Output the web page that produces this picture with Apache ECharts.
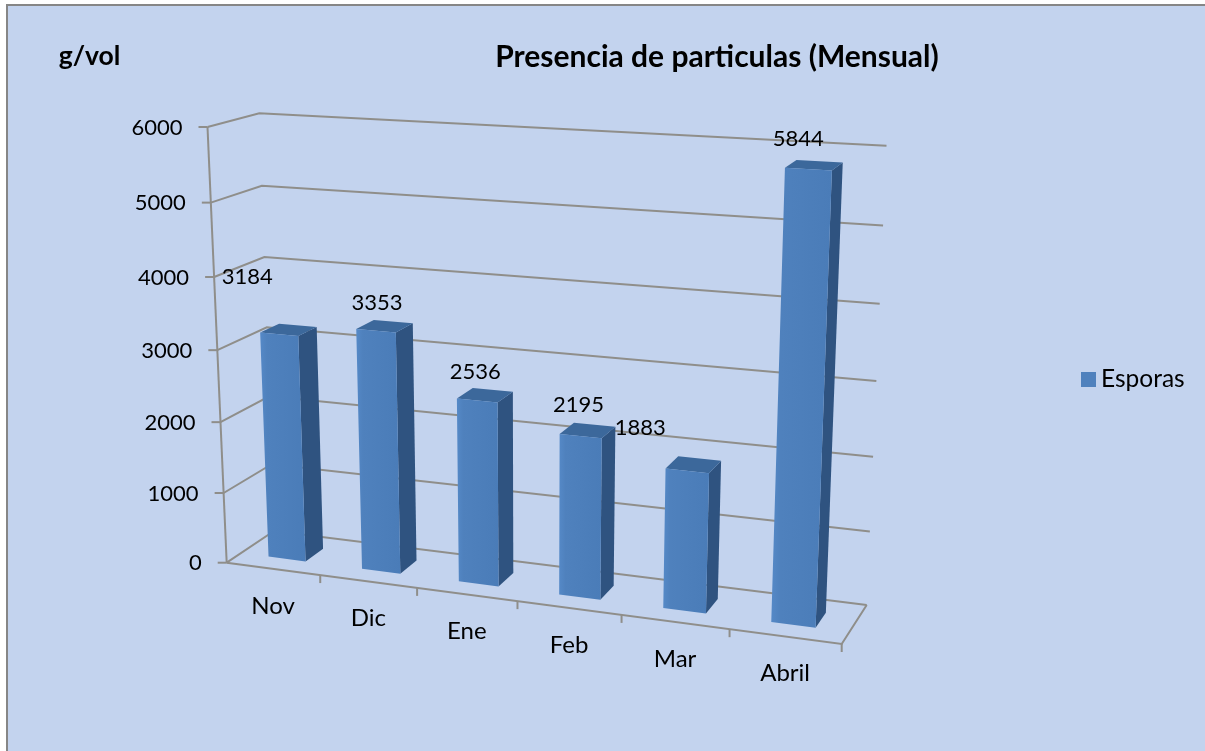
<!DOCTYPE html>
<html>
<head>
<meta charset="utf-8">
<style>html,body{margin:0;padding:0;background:#fff}#c{width:1205px;height:751px}</style>
<script src="https://cdn.jsdelivr.net/npm/echarts@6/dist/echarts.min.js"></script>
</head>
<body>
<div id="c"></div>
<script>
const categories = ['Nov', 'Dic', 'Ene', 'Feb', 'Mar', 'Abril'];
const esporas = [3184, 3353, 2536, 2195, 1883, 5844];
const valueTicks = [0, 1000, 2000, 3000, 4000, 5000, 6000];
const labelOffsets = [[-32, -57], [1, -28], [-2, -29], [-2, -31], [-47, -43], [-10, -30]];

// 3D box: 8 projected corners (front/back, left/right, bottom/top)
const FLB = [226.7, 562.7], FRB = [841.7, 644], BLB = [274, 531], BRB = [866.7, 605];
const FLT = [207.5, 127], FRT = [860, 166], BLT = [259.3, 113.3], BRT = [886.5, 145.7];
const FONT = 'Lato, Carlito, "Open Sans", sans-serif';
const GRID = '#8f8e8a';

function lerp(a, b, f) { return [a[0] + (b[0] - a[0]) * f, a[1] + (b[1] - a[1]) * f]; }
function project(u, t, v) {
  const uu = u / (1 + 0.115 * (1 - u));
  const tt = t / (1 + 0.05 * (1 - t));
  const f = lerp(lerp(FLB, FRB, uu), lerp(FLT, FRT, uu), tt);
  const b = lerp(lerp(BLB, BRB, uu), lerp(BLT, BRT, uu), tt);
  return lerp(f, b, v);
}
// fractions of the hidden grid, read through the library's scales
function yFrac(api, value) {
  const y0 = api.coord([0, 0])[1], y1 = api.coord([0, 6000])[1];
  return (y0 - api.coord([0, value])[1]) / (y0 - y1);
}
function line(points, w) {
  return { type: 'polyline', shape: { points }, style: { stroke: GRID, lineWidth: w || 2, fill: null } };
}
function txt(text, x, y, align, size) {
  return { type: 'text', style: { text, x, y, align: align || 'center', verticalAlign: 'middle', font: (size || 22) + 'px ' + FONT, fill: '#000' } };
}

function renderWall(params, api) {
  const value = api.value(1), t = yFrac(api, value);
  const a = project(0, t, 0), b = project(0, t, 1), c = project(1, t, 1);
  const children = [line([a, b, c]), line([[a[0] - 9, a[1]], a]), txt(String(value), a[0] - 25, a[1] + 0.5, 'right')];
  if (value === 0) {
    children.push(line([project(0, 0, 0), project(0, 1, 0)]));
    children.push(line([project(0, 0, 0), project(1, 0, 0), project(1, 0, 1)]));
  }
  return { type: 'group', children };
}
function renderCategory(params, api) {
  const i = api.value(0), n = categories.length;
  const band = api.size([1, 0])[0];
  const left = api.coord([0, 0])[0] - band / 2;
  const u1 = (api.coord([i, 0])[0] + band / 2 - left) / (band * n);
  const p = project(u1, 0, 0), m = project(u1 - 0.5 / n, 0, 0);
  return { type: 'group', children: [line([p, [p[0], p[1] + 8]]), txt(categories[i], m[0], m[1] + 37, 'center', 24)] };
}
function renderBar(params, api) {
  const i = api.value(0), n = categories.length, value = api.value(1), t = yFrac(api, value);
  const band = api.size([1, 0])[0];
  const left = api.coord([0, 0])[0] - band / 2;
  const uc = (api.coord([i, 0])[0] - left) / (band * n);
  const w = 0.2 / n, v0 = 0.305, v1 = 0.695;
  const u0 = uc - w, u1 = uc + w;
  const front = [project(u0, 0, v0), project(u1, 0, v0), project(u1, t, v0), project(u0, t, v0)];
  const side = [project(u1, 0, v0), project(u1, 0, v1), project(u1, t, v1), project(u1, t, v0)];
  const top = [project(u0, t, v0), project(u1, t, v0), project(u1, t, v1), project(u0, t, v1)];
  const tc = project(uc, t, v0), off = labelOffsets[i];
  return { type: 'group', children: [
    { type: 'polygon', shape: { points: side }, style: { fill: '#2f5380' } },
    { type: 'polygon', shape: { points: top }, style: { fill: '#3c689b' } },
    { type: 'polygon', shape: { points: front }, style: { fill: {
      type: 'linear', x: 0, y: 0, x2: 1, y2: 0,
      colorStops: [{ offset: 0, color: '#5589c7' }, { offset: 0.15, color: '#4f81bd' }, { offset: 1, color: '#4a7cb8' }] } } },
    txt(String(value), tc[0] + off[0], tc[1] + off[1])
  ] };
}

const chart = echarts.init(document.getElementById('c'), null, { renderer: 'canvas' });
chart.setOption({
  animation: false,
  backgroundColor: '#ffffff',
  graphic: [
    { type: 'rect', z: -10, shape: { x: 6, y: 4, width: 1300, height: 800 }, style: { fill: '#868686' } },
    { type: 'rect', z: -9, shape: { x: 8, y: 6, width: 1300, height: 800 }, style: { fill: '#c3d3ee' } }
  ],
  title: [
    { text: 'Presencia de particulas (Mensual)', left: 717, top: 37, textAlign: 'center',
      textStyle: { fontFamily: FONT, fontWeight: 'bold', fontSize: 30, color: '#000' } },
    { text: 'g/vol', left: 90, top: 38, textAlign: 'center',
      textStyle: { fontFamily: FONT, fontWeight: 'bold', fontSize: 26.5, color: '#000' } }
  ],
  legend: { data: ['Esporas'], left: 1076, top: 362, itemWidth: 15, itemHeight: 15, icon: 'rect', itemGap: 7,
    textStyle: { fontFamily: FONT, fontSize: 24.5, color: '#000', padding: [0, 0, 0, 0] } },
  grid: { left: 0, right: 0, top: 0, bottom: 0 },
  xAxis: { type: 'category', data: categories, show: false },
  yAxis: { type: 'value', min: 0, max: 6000, interval: 1000, show: false },
  series: [
    { type: 'custom', name: 'Cuadricula', silent: true, z: 1, renderItem: renderWall, clip: false,
      encode: { x: 0, y: 1 }, data: valueTicks.map(v => [0, v]) },
    { type: 'custom', name: 'Categorias', silent: true, z: 2, renderItem: renderCategory, clip: false,
      encode: { x: 0, y: 1 }, data: categories.map((c, i) => [i, 0]) },
    { type: 'custom', name: 'Esporas', z: 3, renderItem: renderBar, clip: false, itemStyle: { color: '#4f81bd' },
      encode: { x: 0, y: 1 }, data: esporas.map((v, i) => [i, v]) }
  ]
});
chart.setOption({ title: [{ left: 712 }, { left: 84.5 }] });
</script>
</body>
</html>
